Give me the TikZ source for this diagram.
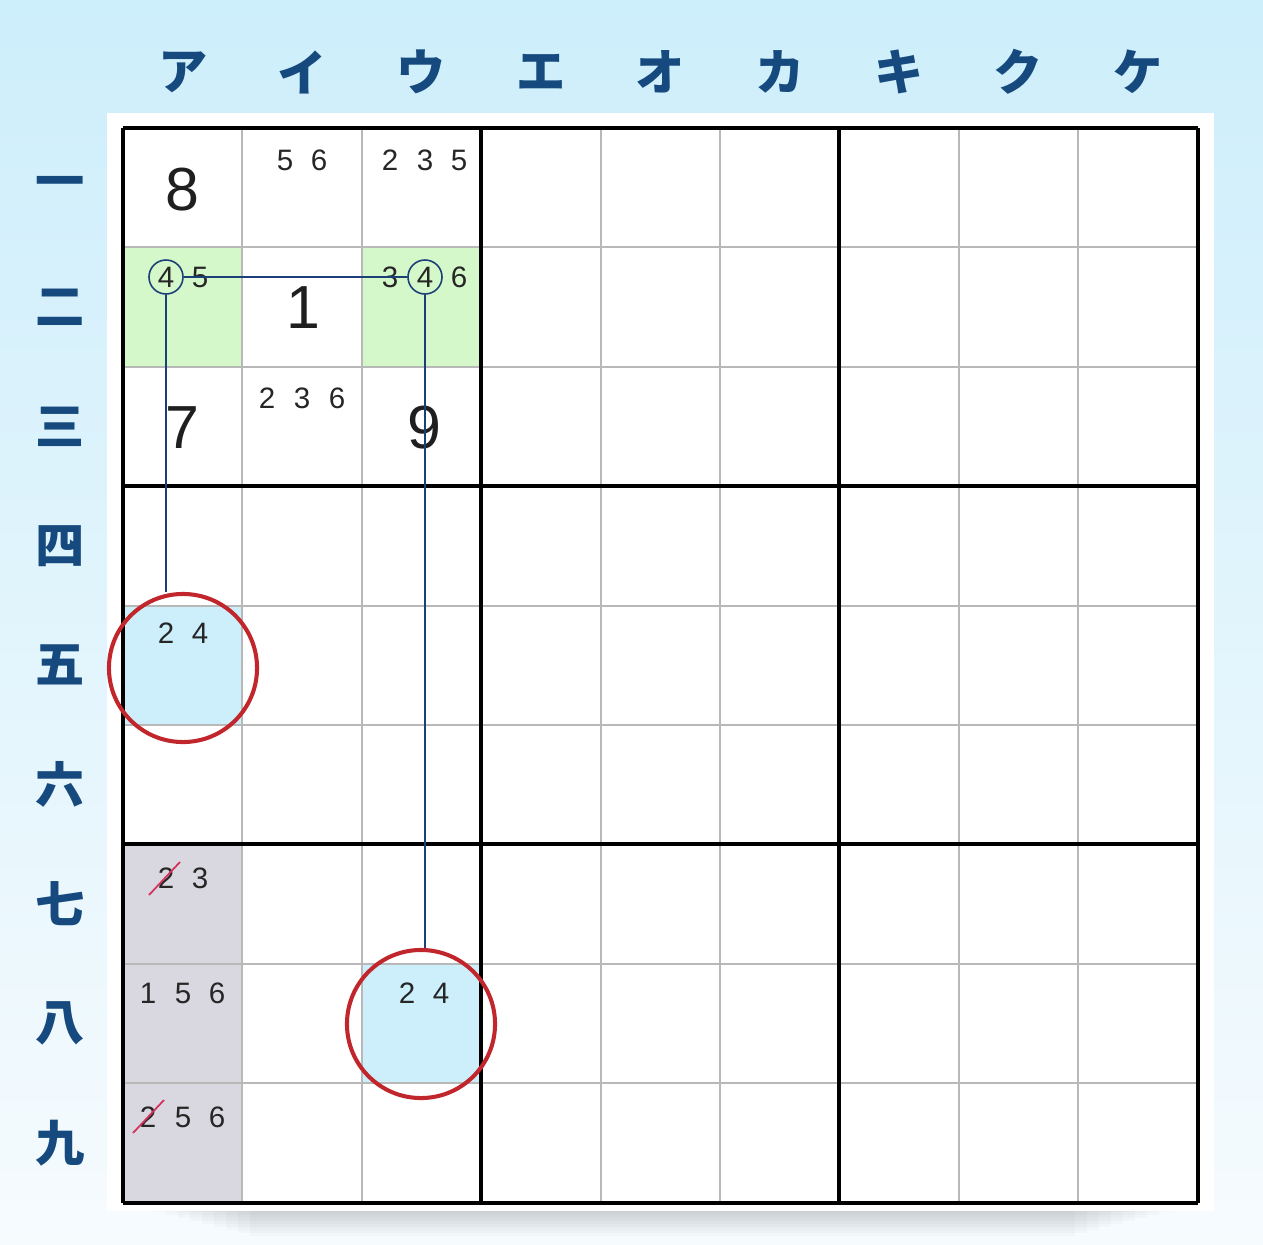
\documentclass[tikz,border=0pt]{standalone}
\usepackage{fontspec}
\setmainfont{Liberation Sans}
\newfontfamily\jpfont{Noto Sans CJK JP}
\definecolor{bgtop}{HTML}{CDEEFB}
\definecolor{bgbot}{HTML}{F6FBFE}
\definecolor{labelblue}{HTML}{164A7E}
\definecolor{pairgreen}{HTML}{D5F8CB}
\definecolor{wingblue}{HTML}{CDEFFB}
\definecolor{elimgrey}{HTML}{D9D8E1}
\definecolor{ringred}{HTML}{C0262B}
\definecolor{chainblue}{HTML}{1D3F78}
\definecolor{strikered}{HTML}{D6305C}

\begin{document}
\begin{tikzpicture}[x=0.01cm, y=-0.01cm,
    headlabel/.style={font=\jpfont\bfseries\fontsize{14}{15}\selectfont, text=labelblue},
    given/.style={font=\fontsize{17.3}{18}\selectfont, inner sep=0pt, text=black!88},
    cand/.style={font=\fontsize{8.4}{9}\selectfont, inner sep=0pt, text=black!85},
    pivot/.style={cand, draw=chainblue, circle, line width=0.45pt, minimum size=0.34cm},
    chain/.style={draw=chainblue, line width=0.55pt},
    ring/.style={draw=ringred, circle, line width=1.15pt, minimum size=1.48cm},
    cross/.style={draw=strikered, line width=0.5pt},
    gridline/.style={draw=black!28, line width=0.55pt},
    boxline/.style={draw=black, line width=1.15pt}]

      % background and panel
      \shade[top color=bgtop, bottom color=bgbot] (0,0) rectangle (1263,1245);
      \foreach \i in {1,...,10}
        \fill[black, opacity=0.018] (130+\i*12,1204) rectangle (1195-\i*12,1206+\i*3);
      \fill[white] (107,113) rectangle (1214,1211);

      % highlighted cells
      \fill[pairgreen] (123,247.4) rectangle (242.4,366.8);
      \fill[pairgreen] (361.8,247.4) rectangle (481.2,366.8);
      \fill[wingblue] (123,605.6) rectangle (242.4,725);
      \fill[wingblue] (361.8,963.8) rectangle (481.2,1083.2);
      \fill[elimgrey] (123,844.4) rectangle (242.4,1202.6);

      % grid
      \foreach \k in {1,2,4,5,7,8} {
        \draw[gridline] ({123+119.4*\k},128) -- ++(0,1074.6);
        \draw[gridline] (123,{128+119.4*\k}) -- ++(1074.6,0);
      }
      \foreach \k in {0,3,6,9} {
        \draw[boxline] ({123+119.4*\k},128) -- ++(0,1074.6);
        \draw[boxline] (123,{128+119.4*\k}) -- ++(1074.6,0);
      }

      % column and row labels
      \foreach \lab [count=\i from 0] in {ア,イ,ウ,エ,オ,カ,キ,ク,ケ}
        \node[headlabel] (col\i) at ({182.7+119.4*\i},72) {\lab};
      \foreach \lab [count=\i from 0] in {一,二,三,四,五,六,七,八,九}
        \node[headlabel] (row\i) at (60,{187.7+119.4*\i}) {\lab};

      % given digits
      \node[given] (g8) at (182.7,190) {8};
      \node[given] (g1) at (303,308) {1};
      \node[given] (g7) at (182.7,428) {7};
      \node[given] (g9) at (424,428) {9};

      % candidates
      \foreach \d/\x in {5/285,6/319} \node[cand] (a2-\d) at (\x,160) {\d};
      \foreach \d/\x in {2/390,3/425,5/459} \node[cand] (a3-\d) at (\x,160) {\d};
      \node[pivot] (p1) at (166,277) {4};
      \node[cand] (b1-5) at (200,277) {5};
      \node[cand] (b3-3) at (390,277) {3};
      \node[pivot] (p2) at (425,277) {4};
      \node[cand] (b3-6) at (459,277) {6};
      \foreach \d/\x in {2/267,3/302,6/337} \node[cand] (c2-\d) at (\x,398) {\d};
      \foreach \d/\x in {2/166,4/200} \node[cand] (e1-\d) at (\x,633) {\d};
      \foreach \d/\x in {2/166,3/200} \node[cand] (g1-\d) at (\x,878) {\d};
      \foreach \d/\x in {1/148,5/183,6/217} \node[cand] (h1-\d) at (\x,993) {\d};
      \foreach \d/\x in {2/407,4/441} \node[cand] (h3-\d) at (\x,993) {\d};
      \foreach \d/\x in {2/148,5/183,6/217} \node[cand] (i1-\d) at (\x,1117) {\d};

      % eliminated candidates
      \draw[cross] ([shift={(-17,17)}]g1-2.center) -- ([shift={(14,-16)}]g1-2.center);
      \draw[cross] ([shift={(-15,16)}]i1-2.center) -- ([shift={(16,-17)}]i1-2.center);

      % wing cells
      \node[ring] (ring1) at (183,668) {};
      \node[ring] (ring2) at (421,1024) {};

      % chain
      \draw[chain] (p1) -- (p2);
      \draw[chain] (p1) -- (p1 |- ring1.north);
      \draw[chain] (p2) -- (p2 |- ring2.north);
\end{tikzpicture}
\end{document}
